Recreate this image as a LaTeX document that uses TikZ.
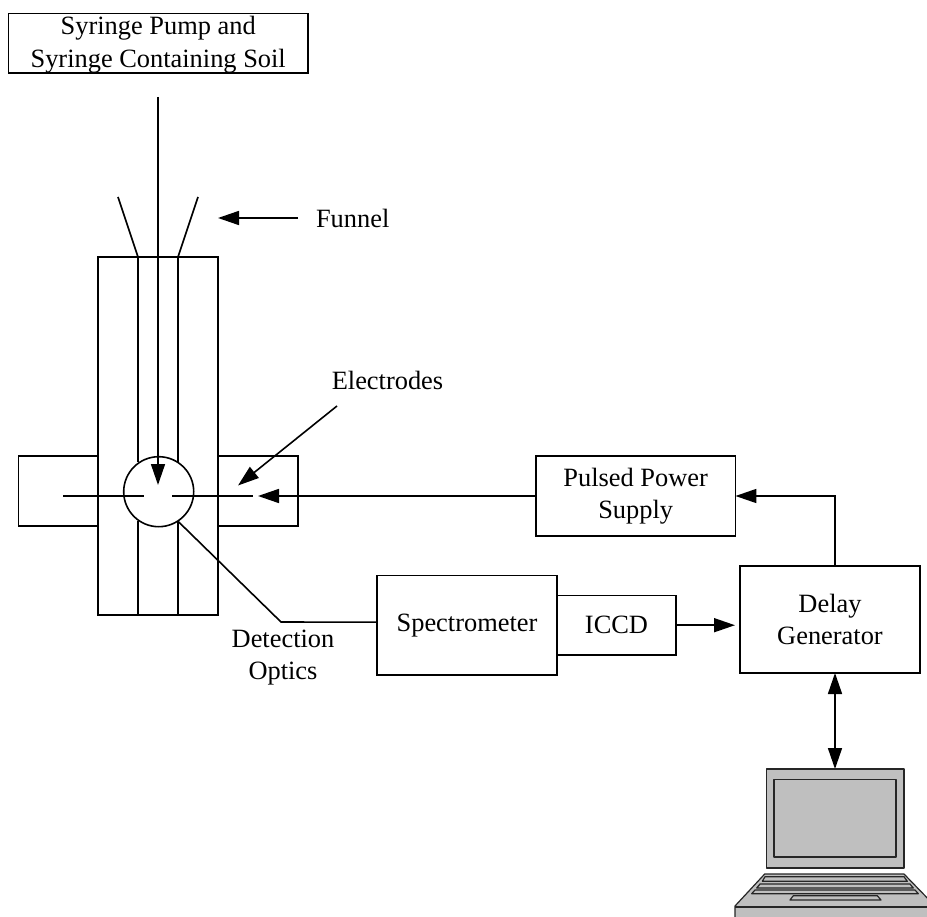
\documentclass[tikz,border=0pt]{standalone}
\usepackage{fontspec}
\setmainfont{Liberation Serif}
\usetikzlibrary{arrows.meta}
\tikzset{
  x=1pt,y=-1pt,
  ln/.style={draw=black,line width=1.6pt,line cap=butt},
  tip/.style={-{Triangle[length=21pt,width=14pt]}},
  dtip/.style={{Triangle[length=21pt,width=14pt]}-{Triangle[length=21pt,width=14pt]}},
  lbl/.style={font=\fontsize{26.4}{32}\selectfont,align=center,inner sep=0pt,outer sep=0pt},
  boxn/.style={lbl,draw=black,line width=1.6pt},
  lap/.style={draw=black!85,line width=1.2pt,fill=black!25,line join=round},
}
\begin{document}
\begin{tikzpicture}
\useasboundingbox (0,0) rectangle (927,917);
% boxes
\node[boxn,minimum width=299.5pt,minimum height=59.5pt] (pump) at (158.2,43.3) {\rule{0pt}{21pt}Syringe Pump and\\[1pt]Syringe Containing Soil};
\node[boxn,minimum width=199.5pt,minimum height=80pt] (pulse) at (635.7,496) {Pulsed Power\\Supply};
\node[boxn,minimum width=180pt,minimum height=99.5pt] (spec) at (467,625.2) {\raisebox{-1pt}{Spectrometer}};
\node[boxn,minimum width=119pt,minimum height=59.5pt] (iccd) at (616.5,625.2) {ICCD};
\node[boxn,minimum width=180pt,minimum height=107pt] (delay) at (830,619.5) {Delay\\Generator};
% chamber
\draw[ln] (98,257) rectangle (218,615);
\draw[ln] (98,456) -- (18.5,456) -- (18.5,526) -- (98,526);
\draw[ln] (218,456) -- (298,456) -- (298,526) -- (218,526);
\draw[ln] (138,257) -- (138,462) (178,257) -- (178,462);
\draw[ln] (138,521) -- (138,615) (178,521) -- (178,615);
\draw[ln] (118,197) -- (138,257) (198,197) -- (178,257);
\node[draw=black,line width=1.6pt,circle,minimum size=70pt,inner sep=0pt,outer sep=0pt] (cell) at (158.7,491.7) {};
\draw[ln,tip] (158,97) -- (158,485);
\draw[ln] (63,496) -- (144,496) (172,496) -- (253,496);
% labels
\node[lbl,anchor=west] (funnel) at (316,218) {Funnel};
\coordinate (funnelfrom) at (298,218);
\coordinate (funneltip) at (218,218);
\draw[ln,tip] (funnelfrom) -- (funneltip);
\node[lbl] (elec) at (387.5,380) {Electrodes};
\coordinate (elecfrom) at (337,406);
\coordinate (electip) at (238,485.5);
\draw[ln,tip] (elecfrom) -- (electip);
\node[lbl] (det) at (283,658) {Detection\\Optics};
% connectors
\coordinate (gaptip) at (258,496);
\draw[ln,tip] (pulse.west) -- (gaptip);
\draw[ln] (cell.-57) -- (281,622) -- ([yshift=3pt]spec.west);
\draw[ln,tip,shorten >=5pt] (iccd.east) -- (delay.west |- iccd.east);
\draw[ln,tip] ([xshift=5pt]delay.north) |- (pulse.east);
\coordinate (lapt) at (835,769);
\draw[ln,dtip] ([xshift=5pt]delay.south) -- (lapt);
% laptop
\begin{scope}
\clip (0,0) rectangle (927,917);
\draw[lap] (766.5,769) rectangle (904,868);
\draw[lap] (774,779.5) rectangle (896,857);
\draw[lap] (764.7,874) -- (904,874) -- (936,907) -- (936,925) -- (735,925) -- (735,906) -- cycle;
\draw[lap] (735,907) -- (936,907);
\draw[lap] (765,876.7) -- (904,876.7) -- (907.3,881.3) -- (762.3,881.3) -- cycle;
\draw[lap] (760,884) -- (910,884) -- (913.3,888) -- (756.7,888) -- cycle;
\draw[lap] (755,890) -- (915,890) -- (918.3,893.7) -- (751.7,893.7) -- cycle;
\draw[lap] (793.3,895.7) -- (877.3,895.7) -- (881,900) -- (790,900) -- cycle;
\end{scope}
\end{tikzpicture}
\end{document}
